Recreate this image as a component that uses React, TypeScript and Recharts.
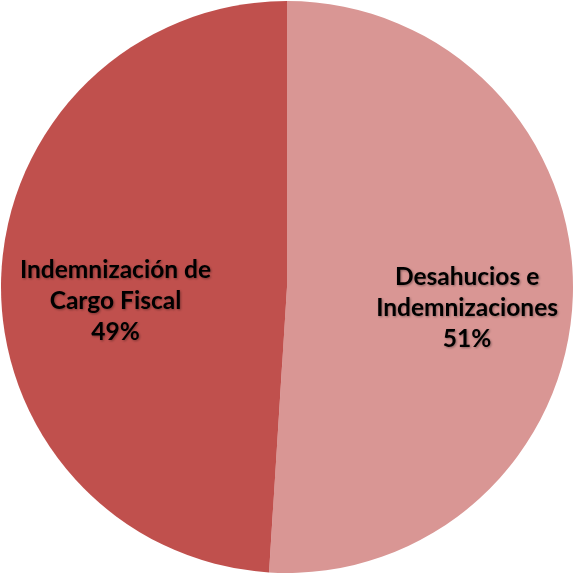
import { Cell, Pie, PieChart } from "recharts";

const categories = ["Desahucios e Indemnizaciones", "Indemnización de Cargo Fiscal"];
const shares = [51, 49];
const labelLines = [
  ["Desahucios e", "Indemnizaciones", "51%"],
  ["Indemnización de", "Cargo Fiscal", "49%"],
];
const COLORS = ["#D99694", "#C0504D"];

const data = categories.map((name, i) => ({ name, value: shares[i] }));

const RAD = Math.PI / 180;
// Excel nudges the boxes a little off the mid-angle, keep that here
const LABEL_SHIFT = [
  { r: 0.63, dy: 13 },
  { r: 0.6, dy: 17 },
];

function SliceLabel(props: any) {
  const { cx, cy, midAngle, outerRadius, index } = props;
  const shift = LABEL_SHIFT[index];
  const x = cx + outerRadius * shift.r * Math.cos(-midAngle * RAD);
  const y = cy + outerRadius * shift.r * Math.sin(-midAngle * RAD) + shift.dy;
  const lines = labelLines[index];
  const lh = 31;
  const top = y - ((lines.length - 1) * lh) / 2;
  return (
    <text
      x={x}
      y={top}
      textAnchor="middle"
      dominantBaseline="central"
      fill="#000"
      fontFamily="Lato, 'Open Sans', sans-serif"
      fontWeight={700}
      fontSize={24.5}
      filter="url(#txtShadow)"
    >
      {lines.map((l, i) => (
        <tspan key={i} x={x} y={top + i * lh}>
          {l}
        </tspan>
      ))}
    </text>
  );
}

export default function App() {
  return (
    <div style={{ position: "absolute", left: 0, top: 0, background: "#fff" }}>
      <PieChart width={574} height={575} margin={{ top: 0, right: 0, bottom: 0, left: 0 }}>
        <defs>
          <filter id="txtShadow" x="-10%" y="-10%" width="120%" height="120%">
            <feDropShadow dx="1" dy="1" stdDeviation="1.2" floodColor="#000" floodOpacity="0.35" />
          </filter>
        </defs>
        <Pie
          data={data}
          dataKey="value"
          nameKey="name"
          cx={287}
          cy={287}
          outerRadius={286}
          startAngle={90}
          endAngle={-270}
          stroke="none"
          label={SliceLabel}
          labelLine={false}
          isAnimationActive={false}
        >
          {data.map((d, i) => (
            <Cell key={d.name} fill={COLORS[i]} />
          ))}
        </Pie>
      </PieChart>
    </div>
  );
}
